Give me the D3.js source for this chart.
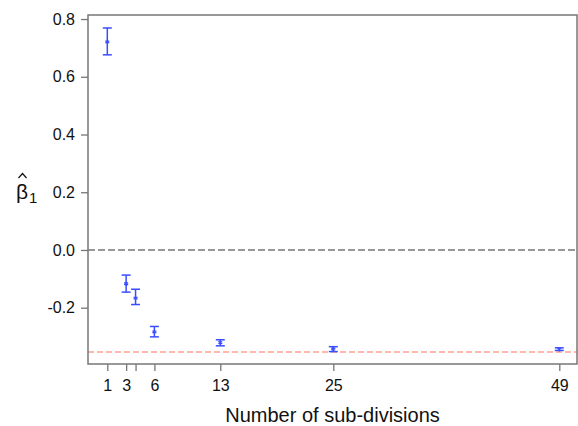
<!DOCTYPE html>
<html>
<head>
<meta charset="utf-8">
<script src="https://cdn.jsdelivr.net/npm/d3@7"></script>
<style>
  body { margin: 0; background: #fff; }
  text { font-family: "Liberation Sans", Arial, sans-serif; fill: #111; }
</style>
</head>
<body>
<svg id="chart"></svg>
<script>
// number of sub-divisions and estimated beta_1 with error bars
const divisions = [1, 3, 4, 6, 13, 25, 49];
const betaHat = [0.721, -0.117, -0.167, -0.284, -0.321, -0.343, -0.344];
const betaLow = [0.676, -0.146, -0.189, -0.301, -0.332, -0.352, -0.348];
const betaHigh = [0.769, -0.087, -0.136, -0.265, -0.311, -0.335, -0.339];
const xTicks = [1, 3, 4, 6, 13, 25, 49];
const xTickLabels = ['1', '3', '', '6', '13', '25', '49'];
const yTicks = [-0.2, 0.0, 0.2, 0.4, 0.6, 0.8];
const zeroLine = 0;
const trueBeta = -0.353;

const width = 578;
const height = 426;
const mLeft = 88;
const mRight = 577;
const mTop = 15;
const mBottom = 364;

const svg = d3.select('#chart')
    .attr('width', width)
    .attr('height', height);

const x = d3.scaleLinear()
    .domain([-1.05, 50.88])
    .range([mLeft, mRight]);
const y = d3.scaleLinear()
    .domain([-0.395, 0.814])
    .range([mBottom, mTop]);

// reference lines
svg.append('line')
    .attr('x1', mLeft).attr('x2', mRight)
    .attr('y1', y(zeroLine)).attr('y2', y(zeroLine))
    .attr('stroke', '#777')
    .attr('stroke-width', 1.3)
    .attr('stroke-dasharray', '7,3');
svg.append('line')
    .attr('x1', mLeft).attr('x2', mRight)
    .attr('y1', y(trueBeta)).attr('y2', y(trueBeta))
    .attr('stroke', '#ff8f80')
    .attr('stroke-opacity', 0.85)
    .attr('stroke-width', 1.5)
    .attr('stroke-dasharray', '6,3');

// box
svg.append('rect')
    .attr('x', mLeft).attr('y', mTop)
    .attr('width', mRight - mLeft).attr('height', mBottom - mTop)
    .attr('fill', 'none')
    .attr('stroke', '#777')
    .attr('stroke-width', 1.5);

// axes
const yAxis = d3.axisLeft(y)
    .tickValues(yTicks)
    .tickSize(7)
    .tickPadding(6);
const gy = svg.append('g')
    .attr('transform', `translate(${mLeft},0)`)
    .call(yAxis);
gy.select('.domain').remove();
gy.selectAll('.tick line').attr('stroke', '#777').attr('stroke-width', 1.3);
gy.selectAll('.tick text')
    .attr('font-size', 16)
    .attr('font-family', '"Liberation Sans", Arial, sans-serif')
    .attr('fill', '#111')
    .text((d) => d3.format('.1f')(d).replace('\u2212', '-'));

const xAxis = d3.axisBottom(x)
    .tickValues(xTicks)
    .tickFormat((d, i) => xTickLabels[i])
    .tickSize(7)
    .tickPadding(9);
const gx = svg.append('g')
    .attr('transform', `translate(0,${mBottom})`)
    .call(xAxis);
gx.select('.domain').remove();
gx.selectAll('.tick line').attr('stroke', '#777').attr('stroke-width', 1.3);
gx.selectAll('.tick text')
    .attr('font-size', 16)
    .attr('font-family', '"Liberation Sans", Arial, sans-serif')
    .attr('fill', '#111');

// error bars
const blue = '#3a4dff';
const g = svg.append('g');
const pts = divisions.map((d, i) => ({d, m: betaHat[i], lo: betaLow[i], hi: betaHigh[i]}));
const bars = g.selectAll('g.bar')
    .data(pts)
    .join('g')
    .attr('class', 'bar');
const cap = 4.5;
bars.append('line')
    .attr('x1', (p) => x(p.d)).attr('x2', (p) => x(p.d))
    .attr('y1', (p) => y(p.hi)).attr('y2', (p) => y(p.lo))
    .attr('stroke', blue).attr('stroke-width', 1.5);
bars.append('line')
    .attr('x1', (p) => x(p.d) - cap).attr('x2', (p) => x(p.d) + cap)
    .attr('y1', (p) => y(p.hi)).attr('y2', (p) => y(p.hi))
    .attr('stroke', blue).attr('stroke-width', 1.5);
bars.append('line')
    .attr('x1', (p) => x(p.d) - cap).attr('x2', (p) => x(p.d) + cap)
    .attr('y1', (p) => y(p.lo)).attr('y2', (p) => y(p.lo))
    .attr('stroke', blue).attr('stroke-width', 1.5);
bars.append('path')
    .attr('transform', (p) => `translate(${x(p.d)},${y(p.m)})`)
    .attr('d', d3.symbol(d3.symbolAsterisk, 14)())
    .attr('fill', 'none')
    .attr('stroke', blue)
    .attr('stroke-width', 1.2);

// axis titles
svg.append('text')
    .attr('x', (mLeft + mRight) / 2)
    .attr('y', 422)
    .attr('text-anchor', 'middle')
    .attr('font-size', 20)
    .text('Number of sub-divisions');

const yLab = svg.append('text')
    .attr('x', 16)
    .attr('y', 199)
    .attr('font-size', 21);
yLab.append('tspan').text('β');
yLab.append('tspan')
    .attr('font-size', 15)
    .attr('dx', 1)
    .attr('dy', 4)
    .text('1');
// hat over beta
svg.append('path')
    .attr('d', 'M18.5,178L22.5,173.5L26.5,178')
    .attr('fill', 'none')
    .attr('stroke', '#111')
    .attr('stroke-width', 1.2);
</script>
</body>
</html>
